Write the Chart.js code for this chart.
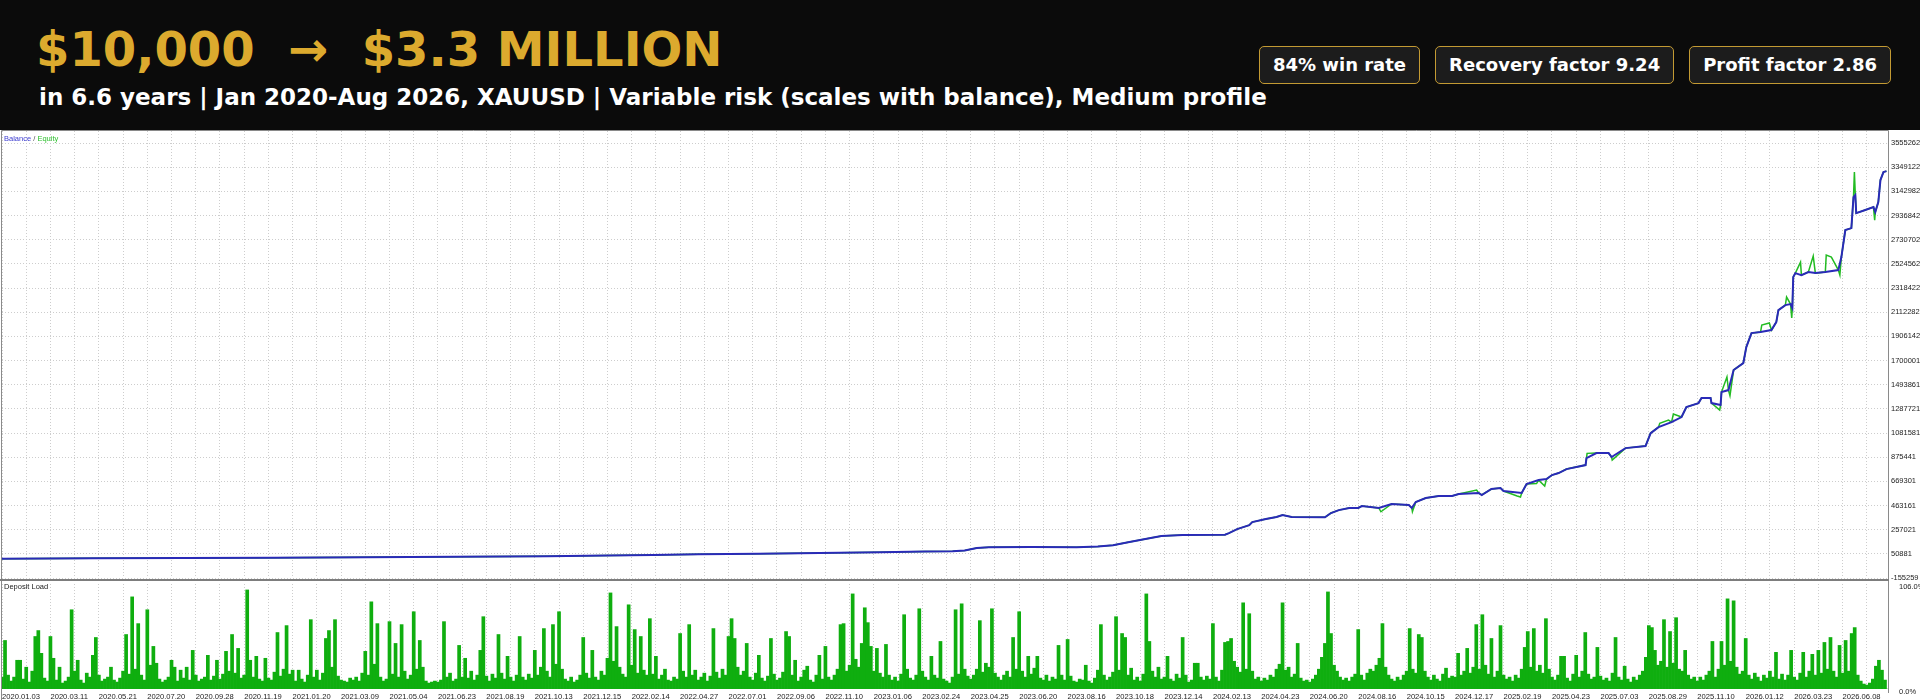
<!DOCTYPE html>
<html><head><meta charset="utf-8">
<script src="https://cdn.jsdelivr.net/npm/chart.js@4.4.1/dist/chart.umd.min.js"></script>
<style>
html,body{margin:0;padding:0;background:#fff;}
body{width:1920px;height:700px;position:relative;overflow:hidden;font-family:"DejaVu Sans",sans-serif;}
#hdr{position:absolute;left:0;top:0;width:1920px;height:130px;background:#0b0b0b;}
#title{position:absolute;left:36px;top:25px;font:bold 48px/48px "DejaVu Sans";color:#dcaa2e;white-space:pre;}
#sub{position:absolute;left:39px;top:86px;font:bold 23px/23px "DejaVu Sans";color:#fff;white-space:pre;}
#badges{position:absolute;right:29px;top:46px;display:flex;gap:15px;}
.badge{box-sizing:border-box;height:38px;padding:0 13px;border:1px solid #c39a33;border-radius:5px;background:#1c1c1c;color:#fff;font:bold 18px/36px "DejaVu Sans";white-space:pre;}
#main{position:absolute;left:0;top:130px;}
#dl{position:absolute;left:0;top:580px;}
#sep{position:absolute;left:0;top:579px;width:1889px;height:2px;background:#7d7d7d;z-index:3;}
.lbl{position:absolute;font:7.5px/9px "Liberation Sans";color:#222;z-index:4;white-space:pre;}
</style></head>
<body>
<div id="hdr">
  <div id="title">$10,000  →  $3.3 MILLION</div>
  <div id="sub">in 6.6 years | Jan 2020-Aug 2026, XAUUSD | Variable risk (scales with balance), Medium profile</div>
  <div id="badges"><div class="badge">84% win rate</div><div class="badge">Recovery factor 9.24</div><div class="badge">Profit factor 2.86</div></div>
</div>
<canvas id="main" width="1920" height="450"></canvas>
<canvas id="dl" width="1920" height="120"></canvas>
<div id="sep"></div>
<div class="lbl" style="left:4px;top:134px;"><span style="color:#3b3bd0">Balance</span><span style="color:#555"> / </span><span style="color:#2fc02f">Equity</span></div>
<div class="lbl" style="left:4px;top:582px;">Deposit Load</div>
<script>
// ---- tick labels ----
const dateLabels = ['2020.01.03','2020.03.11','2020.05.21','2020.07.20','2020.09.28','2020.11.19','2021.01.20','2021.03.09','2021.05.04','2021.06.23','2021.08.19','2021.10.13','2021.12.15','2022.02.14','2022.04.27','2022.07.01','2022.09.06','2022.11.10','2023.01.06','2023.02.24','2023.04.25','2023.06.20','2023.08.16','2023.10.18','2023.12.14','2024.02.13','2024.04.23','2024.06.20','2024.08.16','2024.10.15','2024.12.17','2025.02.19','2025.04.23','2025.07.03','2025.08.29','2025.11.10','2026.01.12','2026.03.23','2026.06.08'];
const yTickVals = [-155259,50881,257021,463161,669301,875441,1081581,1287721,1493861,1700001,1906142,2112282,2318422,2524562,2730702,2936842,3142982,3349122,3555262];
const yMin = -155259, yMax = 3658332;
const depositTicks = [0,106];
const lastStep = 623;

// ---- balance curve (step index, balance $) ----
const balanceStep = [0,30,60,90,120,150,180,200,215,230,250,270,290,305,314,318,322,326,340,355,362,367,372,379,383,390,404,405.3,408,412,413,417.5,421,423,426,437,439,441.6,445,448,449.2,454.8,459,464.7,465.7,467,470.3,474.6,479,481.2,487.8,488.8,492,495,496,502,503.6,507.6,510.2,512,514.2,516.8,523.1,523.4,526.7,530.7,531.7,536.3,542.9,544.6,547.2,551.5,554.8,556.4,560.4,561.4,564.4,564.7,567.7,568,570.3,572,575.2,576.2,577.9,580.9,584.5,586.1,586.8,589.1,590.8,591.4,591.7,592.4,594.4,596.7,599,602.3,606.6,607.6,608.9,610.9,611.6,612.2,612.5,615.5,618.2,618.8,619.8,620.5,621.5,622.5];
const balanceVal = [10000,12500,15000,18500,22000,26000,31000,36000,41000,47000,52000,58000,64000,70000,74000,80000,100000,108000,110000,107000,113000,125000,150000,183000,203000,211000,214000,228000,262000,296000,322000,348000,365000,382000,365000,362000,399000,424000,441000,442000,458000,442000,476000,467000,442000,493000,527000,544000,544000,561000,570000,553000,604000,612000,587000,570000,646000,680000,689000,723000,740000,774000,808000,868000,911000,911000,877000,953000,970000,1081000,1132000,1175000,1218000,1303000,1337000,1380000,1380000,1337000,1320000,1431000,1448000,1619000,1678000,1815000,1934000,1943000,1960000,2028000,2130000,2173000,2182000,2148000,2412000,2446000,2429000,2455000,2446000,2455000,2472000,2583000,2813000,2830000,3094000,3112000,2958000,2984000,3009000,2967000,3052000,3240000,3308000,3316000];

// ---- equity excursions away from balance (step index, equity $) ----
const spikeStep = [455.5,465.9,487.1,500.5,501.6,506.9,509.6,523.6,531.9,547.6,550.5,552.1,567.4,569.8,570.8,581.3,583.8,589.5,591.2,594.1,598.3,602.6,604.3,607.1,611.9,618.6];
const spikeVal = [410000,410000,595000,544000,536000,650000,630000,908000,851000,1164000,1192000,1244000,1278000,1560000,1400000,2003000,2020000,2242000,2063000,2540000,2591000,2600000,2583000,2429000,3308000,2898000];

// ---- deposit load, % (one value per step) ----
const depositLoad = [
12,49,14,8,12,29,29,10,22,7,18,53,59,36,11,8,
53,31,9,22,6,8,12,80,18,29,9,6,16,12,34,52,
14,8,10,12,22,9,7,11,18,55,15,93,20,66,14,9,
80,24,43,26,10,7,9,12,29,22,8,19,11,22,9,39,
14,8,10,12,34,9,13,29,10,15,38,18,55,16,41,11,
14,100,29,12,33,10,8,31,11,9,17,57,13,20,64,15,
19,8,19,10,7,14,70,12,19,9,16,51,59,22,70,13,
9,8,7,11,9,12,8,16,38,14,88,25,66,12,8,10,
68,15,46,12,65,18,10,14,78,20,49,22,8,6,7,8,
7,9,68,12,16,8,10,44,12,31,11,18,9,14,39,73,
13,8,15,11,55,16,10,33,12,8,14,53,12,9,15,11,
39,14,22,61,18,12,65,25,78,20,10,8,12,7,9,14,
52,16,11,39,12,9,18,14,31,97,28,63,22,15,12,85,
24,60,16,53,19,14,71,15,33,10,14,20,9,8,12,10,
56,18,12,65,14,19,9,12,16,8,13,61,17,11,20,14,
53,71,51,22,14,18,46,12,9,16,34,11,8,13,51,15,
9,11,17,58,53,14,29,8,12,19,23,9,7,14,34,10,
43,12,9,14,20,65,66,18,24,96,30,22,46,82,67,43,
18,41,16,12,45,14,9,12,8,15,75,20,11,9,14,81,
18,12,9,33,14,11,48,10,8,6,12,80,15,86,20,13,
10,14,20,69,17,26,22,81,16,12,9,14,18,12,52,20,
78,18,12,33,15,21,33,11,9,14,8,12,10,44,14,9,
50,13,8,7,10,9,24,8,6,11,19,65,14,9,12,17,
73,19,56,52,14,21,9,12,8,15,96,48,18,12,22,10,
12,33,10,8,15,11,52,14,7,9,26,26,12,9,13,10,
66,12,8,19,47,48,51,28,22,17,87,20,76,18,10,12,
8,11,9,14,12,20,25,87,19,22,12,15,46,11,8,9,
7,10,14,20,32,46,98,56,24,18,12,9,11,8,12,15,
60,14,9,16,20,18,24,31,66,22,14,10,8,12,9,14,
18,61,20,16,55,52,18,12,9,14,10,8,15,21,11,13,
12,36,14,18,41,16,22,65,20,75,24,15,51,12,18,64,
14,10,12,8,14,11,20,42,58,22,61,18,24,16,71,20,
12,9,14,33,33,11,8,15,34,12,18,57,15,10,12,42,
13,9,11,8,16,52,12,9,23,10,7,12,9,14,18,32,
64,62,39,24,28,70,22,58,26,72,20,18,39,14,10,12,
8,12,9,14,18,48,12,20,48,24,91,28,89,22,15,18,
51,14,10,16,12,8,14,11,18,12,37,10,15,9,14,39,
12,9,16,37,12,18,35,14,39,16,47,20,52,18,12,44,
16,49,18,56,62,14,8,5,4,6,10,23,29,19,9,0
];

// grid every 8 steps, a date label every 16 steps
const gridSteps = [];
for (let s = 0; s <= lastStep; s += 8) gridSteps.push(s);

const balancePts = balanceStep.map((s, i) => ({x: s, y: balanceVal[i]}));
const equityPts = balancePts.concat(spikeStep.map((s, i) => ({x: s, y: spikeVal[i]}))).sort((a, b) => a.x - b.x);
const loadPts = depositLoad.map((v, i) => ({x: i, y: v}));

const GRID = '#cdcdcd';
const DASH = [1, 2];
const tickFont = {family: 'Liberation Sans', size: 7.5};
const noPad = s => { s.paddingLeft = 0; s.paddingRight = 0; s.paddingTop = 0; s.paddingBottom = 0; };

function framePlugin(drawTop) {
  return {
    id: 'frame' + (drawTop ? 'T' : 'B'),
    afterDraw(chart) {
      const {ctx, chartArea: a} = chart;
      ctx.save();
      ctx.strokeStyle = '#8a8a8a';
      ctx.lineWidth = 1;
      ctx.beginPath();
      ctx.moveTo(a.left - 0.5, drawTop ? a.top - 0.5 : 0);
      ctx.lineTo(a.left - 0.5, chart.height);
      ctx.moveTo(a.right + 0.5, drawTop ? a.top - 0.5 : 0);
      ctx.lineTo(a.right + 0.5, drawTop ? chart.height : a.bottom + 4);
      if (drawTop) { ctx.moveTo(a.left - 0.5, a.top - 0.5); ctx.lineTo(a.right + 0.5, a.top - 0.5); }
      ctx.stroke();
      ctx.restore();
    }
  };
}

new Chart(document.getElementById('main'), {
  type: 'line',
  data: {datasets: [
    {label: 'Balance', data: balancePts, borderColor: '#2a2ab8', borderWidth: 2, pointRadius: 0, tension: 0},
    {label: 'Equity', data: equityPts, borderColor: '#22bb22', borderWidth: 1.5, pointRadius: 0, tension: 0}
  ]},
  options: {
    responsive: false, animation: false, devicePixelRatio: 1,
    layout: {padding: {left: 2, top: 1, bottom: 2, right: 0}},
    plugins: {legend: {display: false}, tooltip: {enabled: false}},
    scales: {
      x: {type: 'linear', min: 0, max: lastStep,
          afterBuildTicks: s => { s.ticks = gridSteps.map(v => ({value: v})); },
          ticks: {display: false}, grid: {color: GRID, drawTicks: false},
          border: {display: false, dash: DASH},
          afterFit: s => { s.height = 0; noPad(s); }},
      y: {position: 'right', min: yMin, max: yMax,
          afterBuildTicks: s => { s.ticks = yTickVals.map(v => ({value: v})); },
          ticks: {font: tickFont, color: '#222', padding: 3, callback: v => String(v)},
          grid: {color: GRID, drawTicks: false},
          border: {display: false, dash: DASH},
          afterFit: s => { s.width = 32; noPad(s); }}
    }
  },
  plugins: [framePlugin(true)]
});

new Chart(document.getElementById('dl'), {
  type: 'bar',
  data: {datasets: [{label: 'Deposit Load', data: loadPts, backgroundColor: '#0fae0f', borderWidth: 0, barPercentage: 1, categoryPercentage: 1}]},
  options: {
    responsive: false, animation: false, devicePixelRatio: 1,
    layout: {padding: {left: 2, top: 4, bottom: 0, right: 0}},
    plugins: {legend: {display: false}, tooltip: {enabled: false}},
    scales: {
      x: {type: 'linear', min: 0, max: lastStep, offset: false,
          afterBuildTicks: s => { s.ticks = gridSteps.map(v => ({value: v})); },
          ticks: {autoSkip: false, maxRotation: 0, minRotation: 0, align: 'start', padding: 3,
                  font: {family: 'Liberation Sans', size: 7.6}, color: '#222',
                  callback: (v, i) => (i % 2 === 0 ? dateLabels[i / 2] : '')},
          grid: {color: GRID, drawTicks: false, offset: false},
          border: {display: false, dash: DASH},
          afterFit: s => { s.height = 11; noPad(s); }},
      y: {position: 'right', min: 0, max: 106,
          afterBuildTicks: s => { s.ticks = depositTicks.map(v => ({value: v})); },
          ticks: {font: tickFont, color: '#222', padding: 3, labelOffset: 3, callback: v => v.toFixed(1) + '%'},
          grid: {display: false}, border: {display: false},
          afterFit: s => { s.width = 32; noPad(s); }}
    }
  },
  plugins: [framePlugin(false)]
});
</script>
</body></html>
